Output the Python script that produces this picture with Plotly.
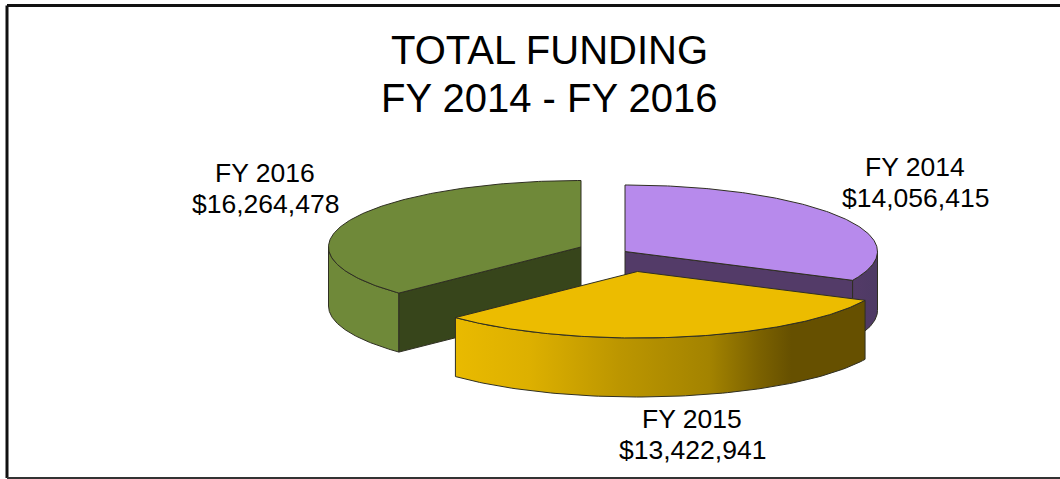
import numpy as np
import plotly.graph_objects as go

categories = ["FY 2014", "FY 2015", "FY 2016"]
values = [14056415, 13422941, 16264478]
title_lines = ["TOTAL FUNDING", "FY 2014 - FY 2016"]

# layout constants (pixel-like axis units)
W, H = 1060, 479
RX, RY, DEPTH = 252.5, 66.5, 59
centers = {"FY 2014": (625, 251.5), "FY 2015": (637.5, 271.5), "FY 2016": (581, 247)}
tops = {"FY 2014": "#B78AEC", "FY 2015": "#ECBC00", "FY 2016": "#6F8939"}
walls = {"FY 2014": "#533B68", "FY 2016": "#37451B"}
sides = {
    "FY 2014": [[0, "#533B68"], [1, "#4E3A64"]],
    "FY 2015": [[0, "#E9BA00"], [0.18, "#DDB000"], [0.4, "#BC9600"], [0.62, "#A38300"],
                [0.74, "#7C6200"], [0.82, "#665000"], [1, "#665000"]],
    "FY 2016": [[0, "#6F8939"], [1, "#6F8939"]],
}
label_pos = {"FY 2014": (915, 167, 198), "FY 2015": (692, 419, 450), "FY 2016": (265, 173, 204)}
EDGE = "#2F2F22"

total = sum(values)
bounds = np.concatenate([[0], np.cumsum(values) / total * 2 * np.pi])
spans = {c: (bounds[i], bounds[i + 1]) for i, c in enumerate(categories)}


def pt(cat, t, drop=0.0):
    cx, cy = centers[cat]
    return cx + RX * np.sin(t), cy - RY * np.cos(t) + drop


def poly(xs, ys, fill=None, grad=None):
    kw = dict(fill="toself", mode="lines", line=dict(color=EDGE, width=1),
              hoverinfo="skip", showlegend=False)
    if grad is not None:
        kw["fillgradient"] = dict(type="horizontal", colorscale=grad)
        kw["fillcolor"] = grad[0][1]
    else:
        kw["fillcolor"] = fill
    return go.Scatter(x=list(xs) + [xs[0]], y=list(ys) + [ys[0]], **kw)


def outer_side(cat):
    a, b = spans[cat]
    lo, hi = max(a, np.pi / 2), min(b, 3 * np.pi / 2)
    ts = np.linspace(lo, hi, 90)
    x1, y1 = pt(cat, ts)
    x2, y2 = pt(cat, ts[::-1], DEPTH)
    return poly(np.r_[x1, x2], np.r_[y1, y2], grad=sides[cat])


def cut_wall(cat, t):
    cx, cy = centers[cat]
    ex, ey = pt(cat, t)
    return poly([cx, ex, ex, cx], [cy, ey, ey + DEPTH, cy + DEPTH], fill=walls[cat])


def top(cat):
    a, b = spans[cat]
    ts = np.linspace(a, b, 180)
    cx, cy = centers[cat]
    x, y = pt(cat, ts)
    return poly(np.r_[cx, x], np.r_[cy, y], fill=tops[cat])


fig = go.Figure()
# back to front: purple, green, yellow
fig.add_trace(outer_side("FY 2014"))
fig.add_trace(cut_wall("FY 2014", spans["FY 2014"][1]))
fig.add_trace(top("FY 2014"))
fig.add_trace(outer_side("FY 2016"))
fig.add_trace(cut_wall("FY 2016", spans["FY 2016"][0]))
fig.add_trace(top("FY 2016"))
fig.add_trace(outer_side("FY 2015"))
fig.add_trace(top("FY 2015"))

ann = []
for line, y in zip(title_lines, (50, 98)):
    ann.append(dict(x=549, y=y, text=line, font=dict(size=40)))
for cat, val in zip(categories, values):
    x, y1, y2 = label_pos[cat]
    ann.append(dict(x=x, y=y1, text=cat, font=dict(size=26.5)))
    ann.append(dict(x=x, y=y2, text=f"${val:,}", font=dict(size=26.5)))
for a in ann:
    a.update(xref="x", yref="y", showarrow=False, xanchor="center", yanchor="middle")
    a["font"].update(family="Liberation Sans, Arial, sans-serif", color="#000000")

frame = dict(color="#111111", width=3)
fig.update_layout(
    width=W, height=H, margin=dict(l=0, r=0, t=0, b=0, pad=0),
    paper_bgcolor="white", plot_bgcolor="white", showlegend=False,
    annotations=ann,
    shapes=[
        dict(type="line", x0=7, x1=7, y0=5.5, y1=478, xref="x", yref="y", line=frame),
        dict(type="line", x0=7, x1=W, y0=5.5, y1=5.5, xref="x", yref="y", line=frame),
        dict(type="line", x0=7, x1=W, y0=478, y1=478, xref="x", yref="y", line=dict(color="#333333", width=2)),
    ],
    xaxis=dict(range=[0, W], visible=False, fixedrange=True),
    yaxis=dict(range=[H, 0], visible=False, fixedrange=True),
)
fig.write_html("out.html", config={"displayModeBar": False},
               post_script="document.body.style.margin='0';document.body.style.overflow='hidden';")
